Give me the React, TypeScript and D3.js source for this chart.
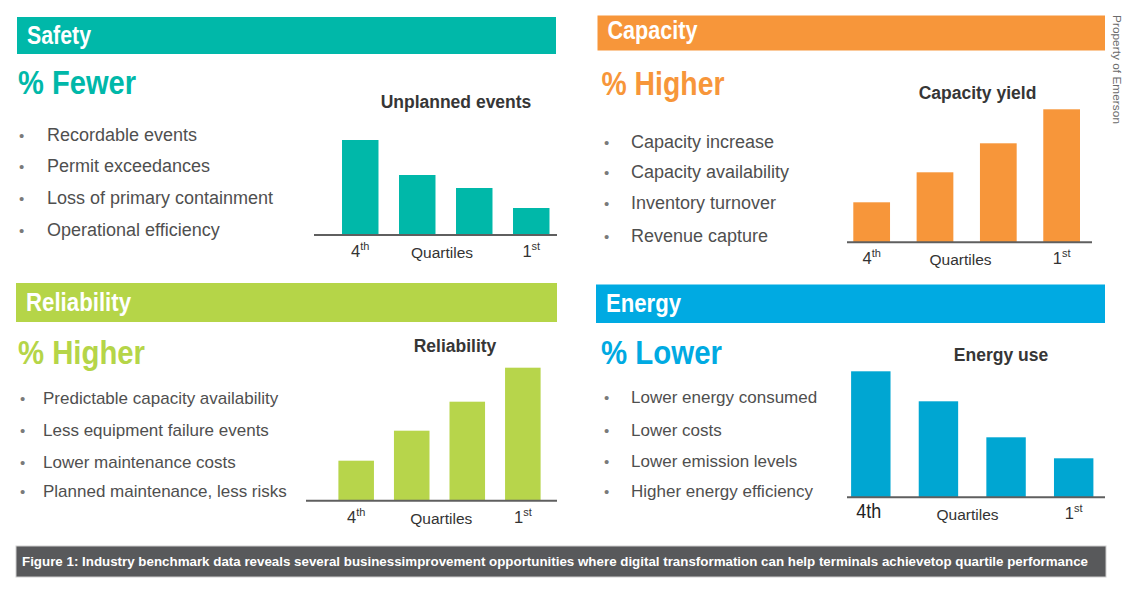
import React from 'react'
import * as d3 from 'd3'

// quartile categories, worst to best
const quartiles = ['4th', '3rd', '2nd', '1st']

// bar values per benchmark (relative units)
const unplannedEvents = [95, 60, 47, 27]
const capacityYield = [40, 70, 99, 133]
const reliabilityScores = [40, 70, 99, 133]
const energyUse = [126, 96, 60, 39]

const safetyItems = [
    'Recordable events',
    'Permit exceedances',
    'Loss of primary containment',
    'Operational efficiency',
]
const capacityItems = [
    'Capacity increase',
    'Capacity availability',
    'Inventory turnover',
    'Revenue capture',
]
const reliabilityItems = [
    'Predictable capacity availability',
    'Less equipment failure events',
    'Lower maintenance costs',
    'Planned maintenance, less risks',
]
const energyItems = [
    'Lower energy consumed',
    'Lower costs',
    'Lower emission levels',
    'Higher energy efficiency',
]

const caption =
    'Figure 1: Industry benchmark data reveals several businessimprovement  opportunities where digital transformation  can help terminals achievetop quartile performance'

const FONT = "'Liberation Sans', Arial, sans-serif"
const VALUE_MAX = 140

interface Panel {
    header: string
    headerWidth: number
    box: [number, number, number, number] // x, y, w, h
    headerBase: number
    color: string
    barColor: string
    big: string
    bigWidth: number
    bigX: number
    bigY: number
    items: string[]
    itemSize: number
    bulletX: number
    textX: number
    itemY: number[]
    title: string
    titleX: number
    titleY: number
    values: number[]
    band: [number, number]
    paddingInner: number
    axisY: number
    axisX: [number, number]
    quartilesX: number
    plainFourth?: boolean
}

const panels: Panel[] = [
    {
        header: 'Safety',
        headerWidth: 64,
        box: [17, 17, 539, 37],
        headerBase: 43.5,
        color: '#00b8a9',
        barColor: '#00b8a9',
        big: '% Fewer',
        bigWidth: 118,
        bigX: 18,
        bigY: 93.5,
        items: safetyItems,
        itemSize: 18,
        bulletX: 19,
        textX: 47,
        itemY: [141, 172, 204, 236],
        title: 'Unplanned events',
        titleX: 456,
        titleY: 108,
        values: unplannedEvents,
        band: [331.75, 559.75],
        paddingInner: 0.36,
        axisY: 235,
        axisX: [314, 557],
        quartilesX: 442,
    },
    {
        header: 'Capacity',
        headerWidth: 90,
        box: [597.5, 15.5, 507.5, 35],
        headerBase: 39,
        color: '#f7963a',
        barColor: '#f7963a',
        big: '% Higher',
        bigWidth: 123,
        bigX: 601.5,
        bigY: 94.5,
        items: capacityItems,
        itemSize: 18,
        bulletX: 604,
        textX: 631,
        itemY: [148, 178, 209, 242],
        title: 'Capacity yield',
        titleX: 977.5,
        titleY: 98.5,
        values: capacityYield,
        band: [840, 1093.3],
        paddingInner: 0.42,
        axisY: 242.3,
        axisX: [847, 1092],
        quartilesX: 960.5,
    },
    {
        header: 'Reliability',
        headerWidth: 105,
        box: [16, 283, 541, 39],
        headerBase: 311,
        color: '#b5d548',
        barColor: '#b7d54b',
        big: '% Higher',
        bigWidth: 127,
        bigX: 18,
        bigY: 364,
        items: reliabilityItems,
        itemSize: 17,
        bulletX: 20,
        textX: 43,
        itemY: [404, 436, 468, 497],
        title: 'Reliability',
        titleX: 455,
        titleY: 351.7,
        values: reliabilityScores,
        band: [328.4, 550.6],
        paddingInner: 0.36,
        axisY: 500.7,
        axisX: [306, 557],
        quartilesX: 441.3,
    },
    {
        header: 'Energy',
        headerWidth: 75,
        box: [596, 284.5, 509, 38.5],
        headerBase: 312,
        color: '#00aae2',
        barColor: '#00a6d2',
        big: '% Lower',
        bigWidth: 121,
        bigX: 601,
        bigY: 364,
        items: energyItems,
        itemSize: 17,
        bulletX: 604,
        textX: 631,
        itemY: [403, 436, 467, 497],
        title: 'Energy use',
        titleX: 1001,
        titleY: 360.7,
        values: energyUse,
        band: [837, 1107.5],
        paddingInner: 0.417,
        axisY: 497.3,
        axisX: [847, 1105],
        quartilesX: 967.5,
        plainFourth: true,
    },
]

const PanelView: React.FC<{ p: Panel }> = ({ p }) => {
    const x = d3
        .scaleBand<string>()
        .domain(quartiles)
        .range(p.band)
        .paddingInner(p.paddingInner)
        .paddingOuter(p.paddingInner / 2)
    const y = d3
        .scaleLinear()
        .domain([0, VALUE_MAX])
        .range([p.axisY, p.axisY - VALUE_MAX])

    const first = quartiles[0]
    const last = quartiles[quartiles.length - 1]
    const cx = (q: string) => (x(q) ?? 0) + x.bandwidth() / 2
    const labelY = p.axisY + 22

    return (
        <g>
            {/* section header */}
            <rect x={p.box[0]} y={p.box[1]} width={p.box[2]} height={p.box[3]} fill={p.color} />
            <text
                x={p.box[0] + 10}
                y={p.headerBase}
                fill="#fff"
                fontSize={25}
                fontWeight="bold"
                textLength={p.headerWidth}
                lengthAdjust="spacingAndGlyphs"
            >
                {p.header}
            </text>

            <text
                x={p.bigX}
                y={p.bigY}
                fill={p.color}
                fontSize={33.5}
                fontWeight="bold"
                textLength={p.bigWidth}
                lengthAdjust="spacingAndGlyphs"
            >
                {p.big}
            </text>

            {/* bullet list */}
            {p.items.map((t, i) => (
                <g key={t}>
                    <text x={p.bulletX} y={p.itemY[i]} fill="#7a7a7a" fontSize={15}>
                        •
                    </text>
                    <text x={p.textX} y={p.itemY[i]} fill="#4f4f4f" fontSize={p.itemSize}>
                        {t}
                    </text>
                </g>
            ))}

            {/* bar chart */}
            <text
                x={p.titleX}
                y={p.titleY}
                textAnchor="middle"
                fill="#363636"
                fontSize={17.5}
                fontWeight="bold"
            >
                {p.title}
            </text>
            {p.values.map((v, i) => (
                <rect
                    key={quartiles[i]}
                    x={x(quartiles[i])}
                    y={y(v)}
                    width={x.bandwidth()}
                    height={y(0) - y(v)}
                    fill={p.barColor}
                />
            ))}
            <line
                x1={p.axisX[0]}
                x2={p.axisX[1]}
                y1={p.axisY}
                y2={p.axisY}
                stroke="#5f5f5f"
                strokeWidth={2}
            />

            {p.plainFourth ? (
                <text
                    x={cx(first) - 2}
                    y={labelY - 1.5}
                    textAnchor="middle"
                    fill="#222"
                    fontSize={20}
                    textLength={25}
                    lengthAdjust="spacingAndGlyphs"
                >
                    {first}
                </text>
            ) : (
                <text x={cx(first)} y={labelY} textAnchor="middle" fill="#333" fontSize={16.5}>
                    {first.slice(0, 1)}
                    <tspan fontSize={11} dy={-7}>
                        {first.slice(1)}
                    </tspan>
                </text>
            )}
            <text x={cx(last)} y={labelY} textAnchor="middle" fill="#333" fontSize={16.5}>
                {last.slice(0, 1)}
                <tspan fontSize={11} dy={-7}>
                    {last.slice(1)}
                </tspan>
            </text>
            <text
                x={p.quartilesX}
                y={p.axisY + 23}
                textAnchor="middle"
                fill="#333"
                fontSize={15.5}
            >
                Quartiles
            </text>
        </g>
    )
}

const App: React.FC = () => {
    return (
        <svg
            width={1134}
            height={595}
            style={{ position: 'absolute', left: 0, top: 0, background: '#fff' }}
            fontFamily={FONT}
        >
            {panels.map((p) => (
                <PanelView key={p.header} p={p} />
            ))}

            <text
                transform="translate(1113,15) rotate(90)"
                fill="#6a6a6a"
                fontSize={10.5}
                textLength={109}
                lengthAdjust="spacingAndGlyphs"
            >
                Property of Emerson
            </text>

            {/* figure caption */}
            <rect
                x={16}
                y={546}
                width={1090}
                height={31}
                fill="#58595b"
                stroke="#cfcfcf"
                strokeWidth={1}
            />
            <text
                x={22}
                y={566}
                fill="#fff"
                fontSize={13.5}
                fontWeight="bold"
                textLength={1066}
                lengthAdjust="spacingAndGlyphs"
            >
                {caption}
            </text>
        </svg>
    )
}

export default App
